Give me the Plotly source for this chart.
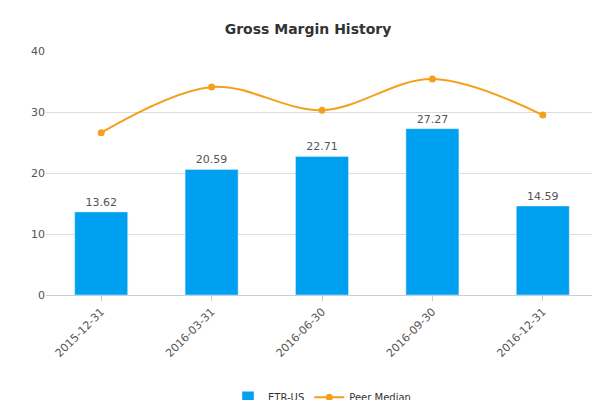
import plotly.graph_objects as go

dates = ['2015-12-31', '2016-03-31', '2016-06-30', '2016-09-30', '2016-12-31']
etr_us = [13.62, 20.59, 22.71, 27.27, 14.59]
peer_median = [26.6, 34.1, 30.3, 35.4, 29.5]

fig = go.Figure()

fig.add_trace(go.Bar(x=dates, y=etr_us, name='ETR-US', marker=dict(color='#00a0f0'),
                     text=[f'{v:.2f}' for v in etr_us], textposition='outside',
                     textfont=dict(color='#555555', size=11), width=0.48, cliponaxis=False))

fig.add_trace(go.Scatter(x=dates, y=peer_median, mode='lines+markers', name='Peer Median',
                         line=dict(color='#f5a01a', width=2, shape='spline'),
                         marker=dict(color='#f5a01a', size=7)))

fig.update_layout(
    title=dict(text='<b>Gross Margin History</b>', x=0.5, y=0.96, font=dict(size=14, color='#333333')),
    width=600, height=400,
    margin=dict(l=38, r=10, t=43, b=113, autoexpand=False),
    plot_bgcolor='white', paper_bgcolor='white',
    font=dict(family='DejaVu Sans', size=11, color='#555555'),
    showlegend=True,
    legend=dict(orientation='h', x=0.5, xanchor='center', y=-0.36, yanchor='top',
                font=dict(size=10, color='#333333')),
    xaxis=dict(type='category', tickangle=-45, showline=True, linecolor='#c0d0e0',
               ticks='outside', tickcolor='#c0d0e0'),
    yaxis=dict(range=[0, 40], dtick=10, showgrid=True, gridcolor='#dddddd', zeroline=False),
    annotations=[dict(text='www.capitalcube.com', xref='paper', yref='paper', x=1.0, y=-0.43,
                      showarrow=False, xanchor='right', yanchor='top', font=dict(size=9, color='#666666'))],
)

fig.write_html('out.html')
